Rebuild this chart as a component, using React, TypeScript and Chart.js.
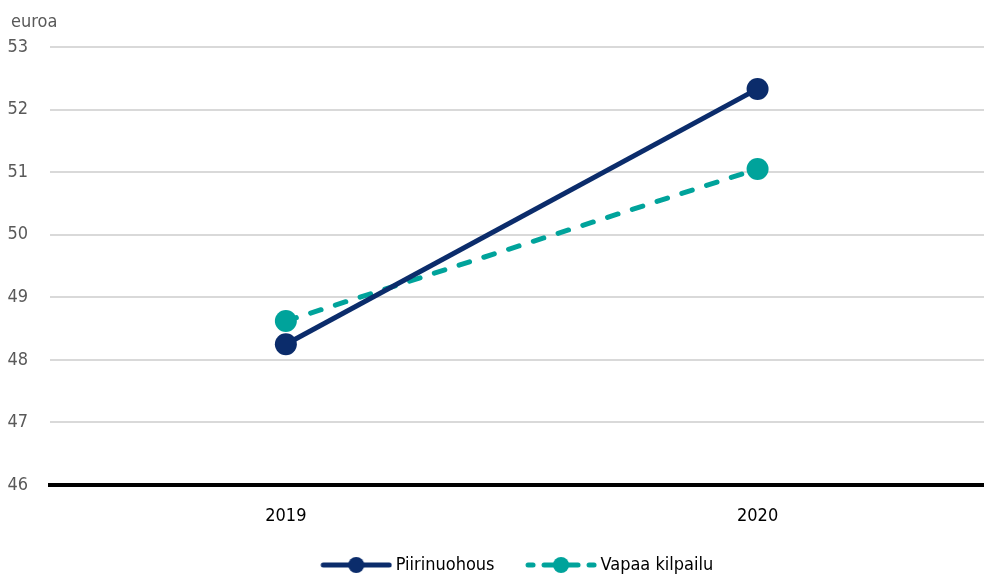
import React, { useEffect, useRef } from 'react';
import { Chart, registerables } from 'chart.js';

Chart.register(...registerables);

const categories = ['2019', '2020'];
const seriesNames = ['Piirinuohous', 'Vapaa kilpailu'];
const piirinuohous = [48.25, 52.33];
const vapaaKilpailu = [48.62, 51.05];
const yTicks = [46, 47, 48, 49, 50, 51, 52, 53];
const unitLabel = 'euroa';

const NAVY = '#0b2c6b';
const TEAL = '#00a39b';
const FONT = '"DejaVu Sans Condensed", "DejaVu Sans", sans-serif';
const FONT_SIZE = 18;

function makeIcon(color: string, dashed: boolean): HTMLCanvasElement {
  const c = document.createElement('canvas');
  c.width = 77;
  c.height = 20;
  const ctx = c.getContext('2d')!;
  const o = 5;
  ctx.strokeStyle = color;
  ctx.fillStyle = color;
  ctx.lineWidth = 5;
  ctx.lineCap = 'round';
  const segs = dashed ? [[3, 8], [19, 53], [64, 69]] : [[3, 69]];
  segs.forEach(([a, b]) => {
    ctx.beginPath();
    ctx.moveTo(o + a, 10);
    ctx.lineTo(o + b, 10);
    ctx.stroke();
  });
  ctx.beginPath();
  ctx.arc(o + 36, 10, 8, 0, Math.PI * 2);
  ctx.fill();
  return c;
}

const unitPlugin = {
  id: 'unitLabel',
  afterDraw(chart: any) {
    const ctx = chart.ctx;
    ctx.save();
    ctx.font = `${FONT_SIZE}px ${FONT}`;
    ctx.fillStyle = '#595959';
    ctx.textBaseline = 'alphabetic';
    ctx.textAlign = 'left';
    ctx.fillText(unitLabel, 11, 27);
    ctx.restore();
  },
};

export default function App() {
  const ref = useRef<HTMLCanvasElement | null>(null);

  useEffect(() => {
    document.body.style.margin = '0';
    const icons = [makeIcon(NAVY, false), makeIcon(TEAL, true)];
    const chart = new Chart(ref.current!, {
      type: 'line',
      data: {
        datasets: [
          {
            label: seriesNames[0],
            data: piirinuohous.map((y, i) => ({ x: i, y })),
            borderColor: NAVY,
            backgroundColor: NAVY,
            borderWidth: 5,
            pointRadius: 11,
            pointBackgroundColor: NAVY,
            pointBorderWidth: 0,
            tension: 0,
          },
          {
            label: seriesNames[1],
            data: vapaaKilpailu.map((y, i) => ({ x: i, y })),
            borderColor: TEAL,
            backgroundColor: TEAL,
            borderWidth: 5,
            borderDash: [11, 15],
            borderCapStyle: 'round',
            pointRadius: 11,
            pointBackgroundColor: TEAL,
            pointBorderWidth: 0,
            tension: 0,
          },
        ],
      },
      options: {
        animation: false,
        responsive: false,
        devicePixelRatio: 1,
        layout: { autoPadding: false, padding: { top: 47, bottom: -4, left: 0, right: 0 } },
        plugins: {
          tooltip: { enabled: false },
          legend: {
            position: 'bottom',
            fullSize: false,
            labels: {
              usePointStyle: true,
              pointStyleWidth: 66,
              padding: 31,
              color: '#000',
              font: { family: FONT, size: FONT_SIZE },
              generateLabels: (c: any) => {
                const items = (Chart.defaults.plugins.legend.labels as any).generateLabels(c);
                items.forEach((it: any, i: number) => {
                  it.pointStyle = icons[i];
                  it.fontColor = '#000';
                });
                return items;
              },
            },
          },
        },
        scales: {
          x: {
            type: 'linear',
            min: -0.5,
            max: 1.48,
            afterBuildTicks: (s: any) => {
              s.ticks = categories.map((_, i) => ({ value: i }));
            },
            afterFit: (s: any) => {
              s.height = 40;
              s.paddingLeft = 0;
              s.paddingRight = 0;
            },
            ticks: {
              callback: (v: any) => categories[v] ?? '',
              color: '#000',
              padding: 21,
              maxRotation: 0,
              font: { family: FONT, size: FONT_SIZE },
            },
            grid: { display: false, drawTicks: false },
            border: { display: true, color: '#000', width: 4 },
          },
          y: {
            min: yTicks[0],
            max: yTicks[yTicks.length - 1],
            afterBuildTicks: (s: any) => {
              s.ticks = yTicks.map((v) => ({ value: v }));
            },
            afterFit: (s: any) => {
              s.width = 50;
            },
            ticks: {
              color: '#595959',
              padding: 22,
              font: { family: FONT, size: FONT_SIZE },
            },
            grid: {
              color: (c: any) => (c.tick && c.tick.value === yTicks[0] ? 'rgba(0,0,0,0)' : '#d9d9d9'),
              lineWidth: 2,
              drawTicks: false,
            },
            border: { display: false },
          },
        },
      } as any,
      plugins: [unitPlugin],
    });
    return () => chart.destroy();
  }, []);

  return (
    <div style={{ position: 'relative', width: 984, height: 580 }}>
      <canvas ref={ref} width={984} height={580} style={{ display: 'block' }} />
    </div>
  );
}
